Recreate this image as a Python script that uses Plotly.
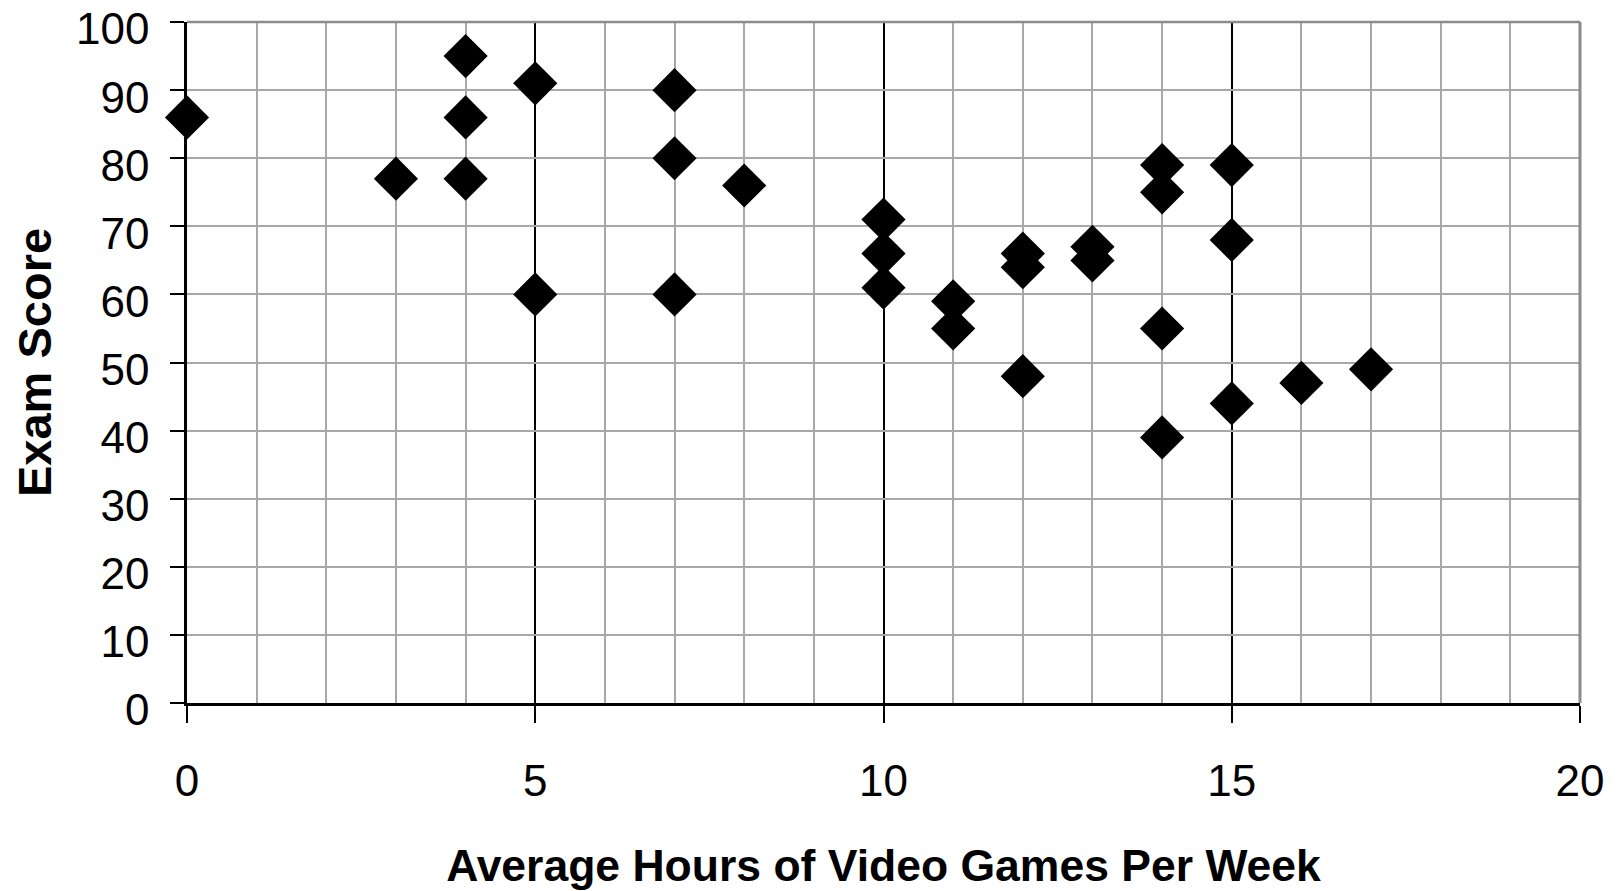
import plotly.graph_objects as go

hours = [0, 3, 4, 4, 4, 5, 5, 7, 7, 7, 8, 10, 10, 10, 11, 11, 12, 12, 12,
         13, 13, 14, 14, 14, 14, 15, 15, 15, 16, 17]
scores = [86, 77, 95, 86, 77, 91, 60, 90, 80, 60, 76, 71, 66, 61, 59, 55, 66, 64, 48,
          67, 65, 79, 75, 55, 39, 79, 68, 44, 47, 49]
x_ticks = [0, 5, 10, 15, 20]
y_ticks = [0, 10, 20, 30, 40, 50, 60, 70, 80, 90, 100]

FONT = "Liberation Sans, Arial, sans-serif"

fig = go.Figure()
fig.add_trace(go.Scatter(
    x=hours, y=scores, mode="markers",
    marker=dict(symbol="diamond", size=34, color="black", line=dict(width=0)),
    showlegend=False, cliponaxis=False,
))

fig.update_layout(
    width=1615, height=883,
    margin=dict(l=179, r=43, t=14, b=188, autoexpand=False),
    paper_bgcolor="white", plot_bgcolor="white",
    font=dict(family=FONT, color="black"),
    xaxis=dict(
        range=[0, 20], tickvals=x_ticks, ticktext=[str(v) for v in x_ticks],
        automargin=False, ticklabeloverflow="allow",
        showgrid=True, gridcolor="black", gridwidth=1.5,
        minor=dict(dtick=1, showgrid=True, gridcolor="#a8a8a8", gridwidth=1.5),
        showline=True, linecolor="black", linewidth=2.5,
        ticks="outside", ticklen=17, tickcolor="black", tickwidth=1.5,
        tickfont=dict(size=44, family=FONT), ticklabelstandoff=20,
        zeroline=False,
        title=dict(text="<b>Average Hours of Video Games Per Week</b>",
                   font=dict(size=44.5, family=FONT), standoff=47),
    ),
    yaxis=dict(
        range=[0, 100.01], tickvals=y_ticks, ticktext=[str(v) for v in y_ticks],
        automargin=False, ticklabeloverflow="allow",
        showgrid=True, gridcolor="#a8a8a8", gridwidth=1.5,
        showline=True, linecolor="black", linewidth=2.5,
        ticks="outside", ticklen=14, tickcolor="black", tickwidth=1.5,
        tickfont=dict(size=44, family=FONT), ticklabelstandoff=12, ticklabelshift=7,
        zeroline=False,
        title=dict(text="<b>Exam Score</b>", font=dict(size=47, family=FONT), standoff=48),
    ),
    shapes=[
        dict(type="line", xref="paper", yref="paper", x0=1, x1=1, y0=0, y1=1,
             line=dict(color="#8c8c8c", width=3), layer="above"),
        dict(type="line", xref="paper", yref="paper", x0=0, x1=1, y0=1, y1=1,
             line=dict(color="#8c8c8c", width=2.5), layer="above"),
    ],
)

fig.write_html("out.html")
